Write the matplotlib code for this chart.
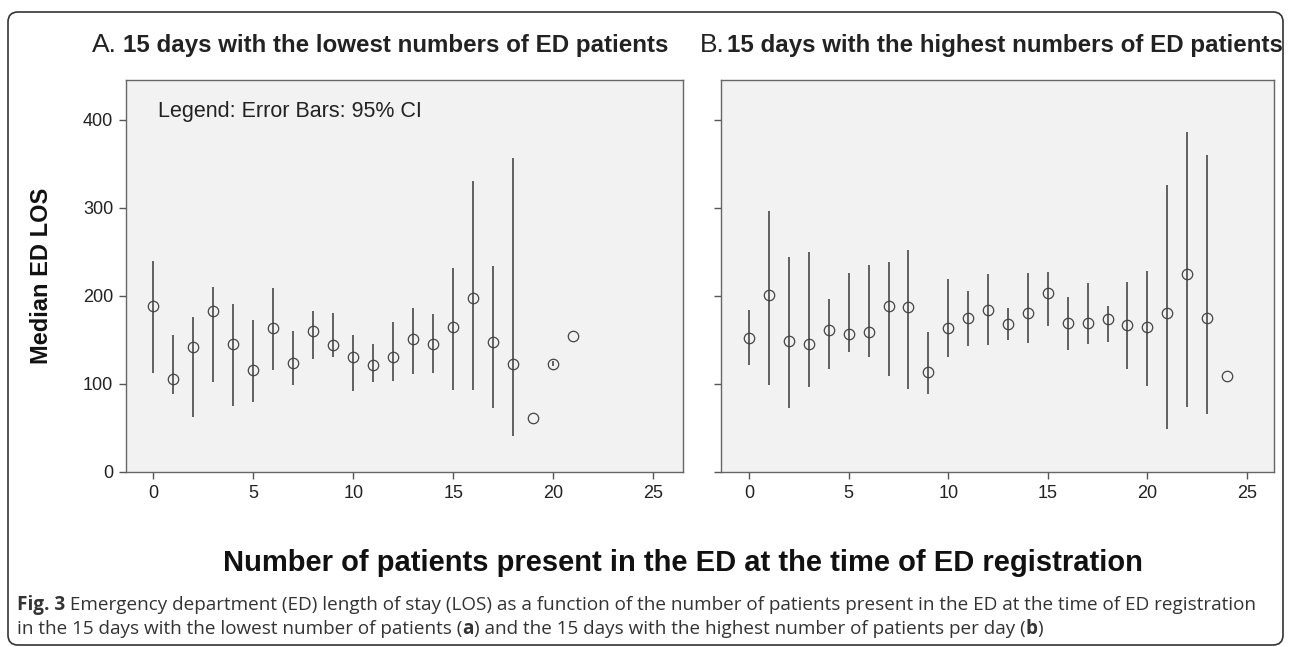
import numpy as np
import matplotlib
matplotlib.use("Agg")
import matplotlib.pyplot as plt
from matplotlib.patches import FancyBboxPatch
from matplotlib.transforms import IdentityTransform

plt.rcParams["font.family"] = ["Liberation Sans", "DejaVu Sans"]

# panel A: 15 days with the lowest numbers of ED patients
low_x = list(range(22))
low_median = [188, 106, 142, 183, 145, 116, 163, 124, 160, 144, 131, 121, 131,
              151, 145, 165, 198, 148, 123, 61, 123, 154]
low_lo = [112, 89, 62, 102, 75, 79, 116, 99, 128, 131, 92, 102, 103,
          111, 112, 93, 93, 73, 41, np.nan, 120, np.nan]
low_hi = [240, 156, 176, 210, 191, 172, 209, 160, 183, 180, 156, 145, 170,
          186, 179, 232, 330, 234, 357, np.nan, 126, np.nan]

# panel B: 15 days with the highest numbers of ED patients
high_x = list(range(25))
high_median = [152, 201, 149, 145, 161, 157, 159, 189, 187, 114, 163, 175, 184,
               168, 181, 203, 169, 169, 174, 167, 165, 180, 225, 175, 109]
high_lo = [122, 99, 73, 97, 117, 136, 130, 109, 94, 89, 131, 143, 144,
           150, 147, 166, 139, 145, 148, 117, 98, 49, 74, 66, np.nan]
high_hi = [184, 296, 244, 250, 196, 226, 235, 238, 252, 159, 219, 206, 225,
           186, 226, 227, 199, 214, 188, 216, 228, 326, 386, 360, np.nan]

x_ticks = [0, 5, 10, 15, 20, 25]
y_ticks = [0, 100, 200, 300, 400]

W, H = 1290, 647
fig = plt.figure(figsize=(12.9, 6.47), dpi=100)

# rounded frame round the whole figure
frame = FancyBboxPatch((8, 2), 1275, 633, boxstyle="round,pad=0,rounding_size=10",
                       transform=IdentityTransform(), fill=False,
                       edgecolor="#333333", linewidth=1.2)
fig.patches.append(frame)

axA = fig.add_axes([125.7 / W, 1 - 472 / H, 557 / W, 392 / H])
axB = fig.add_axes([721 / W, 1 - 472 / H, 553.3 / W, 392 / H])


def draw_panel(ax, x, med, lo, hi, xlim):
    x = np.array(x)
    lo = np.array(lo, dtype=float)
    hi = np.array(hi, dtype=float)
    ok = ~np.isnan(lo)
    ax.vlines(x[ok], lo[ok], hi[ok], color="#555555", linewidth=1.3, zorder=2)
    ax.plot(x, med, "o", mfc="none", mec="#444444", ms=7.5, mew=0.9, zorder=3)
    ax.set_facecolor("#f2f2f2")
    ax.set_xlim(xlim)
    ax.set_ylim(0, 445)
    ax.set_xticks(x_ticks)
    ax.set_yticks(y_ticks)
    for sp in ax.spines.values():
        sp.set_color("#666666")
        sp.set_linewidth(1.0)
    ax.tick_params(direction="out", length=5, width=1, color="#555555",
                   labelsize=13, labelcolor="#222222", pad=4)


draw_panel(axA, low_x, low_median, low_lo, low_hi, (-1.38, 26.47))
draw_panel(axB, high_x, high_median, high_lo, high_hi, (-1.42, 26.38))
axB.set_yticklabels([])

fig.text(158 / W, 1 - 117 / H, "Legend: Error Bars: 95% CI",
         fontsize=15.5, color="#222222", va="baseline")

# panel titles
fig.text(92 / W, 1 - 52 / H, "A.", fontsize=19, color="#222222", va="baseline")
fig.text(123 / W, 1 - 52 / H, "15 days with the lowest numbers of ED patients",
         fontsize=17.4, fontweight="bold", color="#222222", va="baseline")
fig.text(700 / W, 1 - 52 / H, "B.", fontsize=19, color="#222222", va="baseline")
fig.text(727 / W, 1 - 52 / H, "15 days with the highest numbers of ED patients",
         fontsize=17.4, fontweight="bold", color="#222222", va="baseline")

fig.text(42 / W, 1 - 276 / H, "Median ED LOS", rotation=90, fontsize=17,
         fontweight="bold", ha="center", va="center", color="#111111")
fig.text(683 / W, 1 - 571 / H,
         "Number of patients present in the ED at the time of ED registration",
         fontsize=21, fontweight="bold", ha="center", va="baseline", color="#111111")

# caption with bold pieces
cap_font = ["Open Sans", "DejaVu Sans"]
renderer = fig.canvas.get_renderer()


def draw_runs(x0, y_px, runs, size):
    x = x0
    for s, w in runs:
        t = fig.text(x / W, 1 - y_px / H, s, fontsize=size, fontweight=w,
                     family=cap_font, va="baseline", color="#333333")
        bb = t.get_window_extent(renderer=renderer)
        x = bb.x1


cap_size = 13.6
draw_runs(17, 610, [("Fig. 3", "bold"),
                    ("\u00a0Emergency department (ED) length of stay (LOS) as a function of the number "
                     "of patients present in the ED at the time of ED registration", "normal")], cap_size)
draw_runs(17, 634, [("in the 15 days with the lowest number of patients (", "normal"),
                    ("a", "bold"),
                    (") and the 15 days with the highest number of patients per day (", "normal"),
                    ("b", "bold"), (")", "normal")], cap_size)

fig.savefig("out.png", dpi=100)
